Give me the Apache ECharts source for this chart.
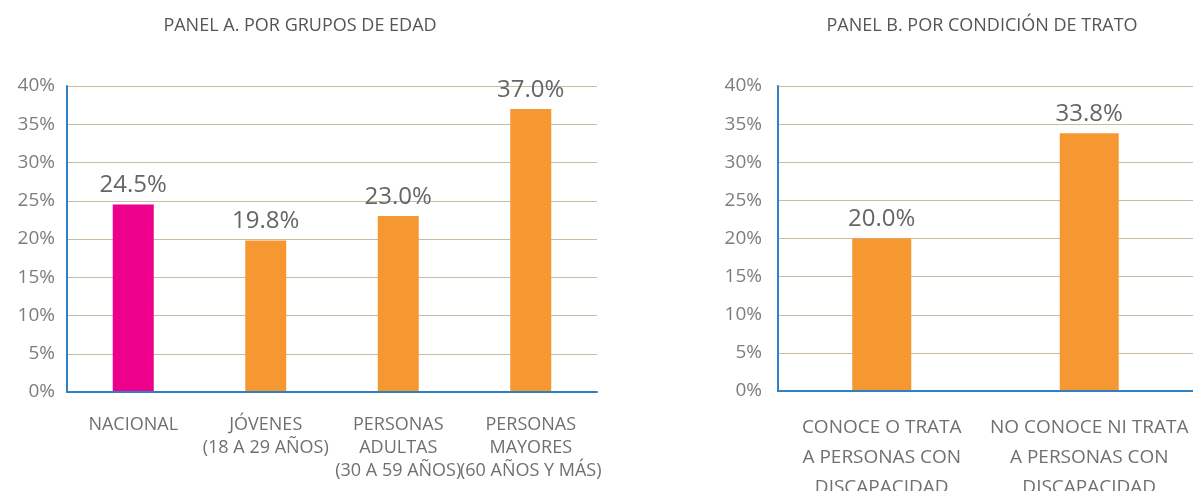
<!DOCTYPE html>
<html>
<head>
<meta charset="utf-8">
<script src="https://cdn.jsdelivr.net/npm/echarts@6/dist/echarts.min.js"></script>
<style>
    html, body { margin: 0; padding: 0; background: #fff; }
    #chart { width: 1193px; height: 491px; }
</style>
</head>
<body>
<div id="chart"></div>
<script>
// panel A
const edadCategories = ['NACIONAL', 'JÓVENES\n(18 A 29 AÑOS)', 'PERSONAS\nADULTAS\n(30 A 59 AÑOS)', 'PERSONAS\nMAYORES\n(60 AÑOS Y MÁS)']
const edadValues = [24.5, 19.8, 23.0, 37.0]
// panel B
const tratoCategories = ['CONOCE O TRATA\nA PERSONAS CON\nDISCAPACIDAD', 'NO CONOCE NI TRATA\nA PERSONAS CON\nDISCAPACIDAD']
const tratoValues = [20.0, 33.8]
const yTicks = [0, 5, 10, 15, 20, 25, 30, 35, 40]

const FONT = '"Open Sans", sans-serif'
const PINK = '#EC008C'
const ORANGE = '#F69831'
const AXIS_BLUE = '#2F80C5'
const GRID_TAN = '#CBBBA3'

const chart = echarts.init(document.getElementById('chart'))

function yAxis(gridIndex, margin) {
    return {
        type: 'value',
        gridIndex: gridIndex,
        min: yTicks[0],
        max: yTicks[yTicks.length - 1],
        interval: yTicks[1] - yTicks[0],
        axisLine: { show: true, lineStyle: { color: AXIS_BLUE, width: 2 } },
        axisTick: { show: false },
        axisLabel: {
            margin: margin,
            color: '#7d7d7d',
            fontSize: 19,
            fontFamily: FONT,
            formatter: '{value}%',
        },
        splitLine: { lineStyle: { color: GRID_TAN, width: 1 } },
    }
}

function xAxis(gridIndex, data, fontSize, lineHeight, margin) {
    return {
        type: 'category',
        gridIndex: gridIndex,
        data: data,
        axisLine: { show: true, onZero: false, lineStyle: { color: AXIS_BLUE, width: 2 } },
        axisTick: { show: false },
        axisLabel: {
            interval: 0,
            margin: margin,
            color: '#707070',
            fontSize: fontSize,
            lineHeight: lineHeight,
            fontFamily: FONT,
        },
        z: 5,
    }
}

const valueLabel = {
    show: true,
    position: 'top',
    distance: 7,
    color: '#666',
    fontSize: 24,
    fontFamily: FONT,
    formatter: (p) => p.value.toFixed(1) + '%',
}

const titleStyle = { color: '#555', fontSize: 18, fontWeight: 'normal', fontFamily: FONT }

const option = {
    animation: false,
    title: [
        { text: 'PANEL A. POR GRUPOS DE EDAD', left: 295, top: 12, textAlign: 'center', textStyle: titleStyle },
        { text: 'PANEL B. POR CONDICIÓN DE TRATO', left: 977, top: 12, textAlign: 'center', textStyle: titleStyle },
    ],
    grid: [
        { left: 67, right: 596, top: 86, bottom: 99, outerBoundsMode: 'none' },
        { left: 778, right: 0, top: 86, bottom: 100, outerBoundsMode: 'none' },
    ],
    xAxis: [
        xAxis(0, edadCategories, 18, 23, 21),
        xAxis(1, tratoCategories, 19, 30, 22),
    ],
    yAxis: [yAxis(0, 12), yAxis(1, 16)],
    series: [
        {
            type: 'bar',
            xAxisIndex: 0,
            yAxisIndex: 0,
            barWidth: 41,
            data: edadValues.map((v, i) => ({
                value: v,
                itemStyle: { color: i === 0 ? PINK : ORANGE },
            })),
            label: valueLabel,
        },
        {
            type: 'bar',
            xAxisIndex: 1,
            yAxisIndex: 1,
            barWidth: 59,
            itemStyle: { color: ORANGE },
            data: tratoValues,
            label: valueLabel,
        },
    ],
}
chart.setOption(option)
</script>
</body>
</html>
